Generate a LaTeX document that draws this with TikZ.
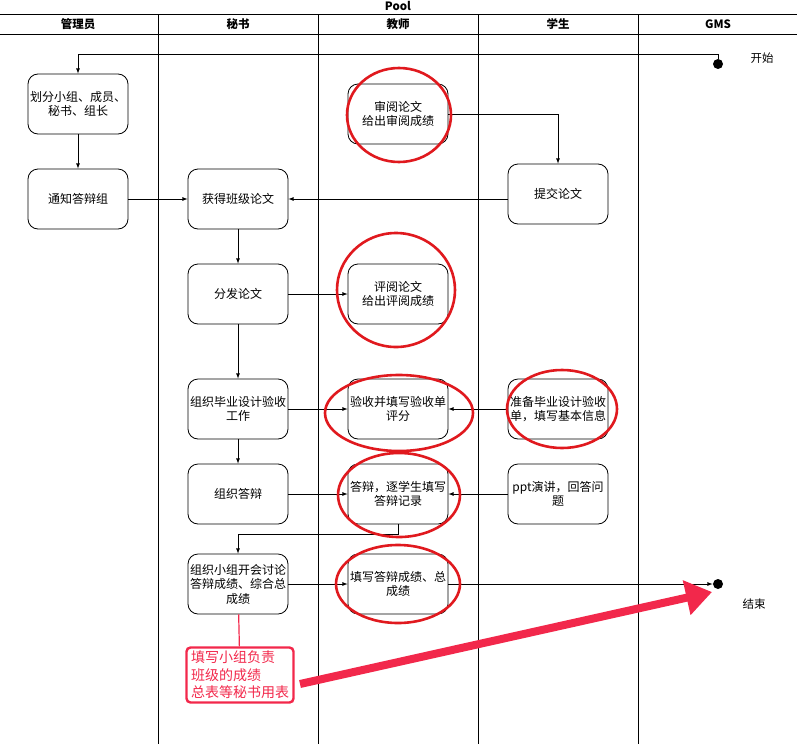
\documentclass[tikz,border=0pt]{standalone}
\usepackage{fontspec}
\setmainfont{Noto Sans CJK SC}
\usetikzlibrary{arrows.meta,arrows,positioning}
\definecolor{hired}{HTML}{E0191E}
\definecolor{notered}{HTML}{F2284B}
\tikzset{
act/.style={
  draw,
  rounded corners=10pt,
  minimum width=100pt,
  minimum height=60pt,
  align=center,
  inner sep=1pt,
  font=\fontsize{12}{14.5}\selectfont
  },
lanehead/.style={
  font=\bfseries\fontsize{11.5}{13}\selectfont,
  inner sep=0pt
  },
lane/.style={line width=0.8pt},
hilite/.style={draw=hired,line width=2.6pt},
notebox/.style={
  draw=notered,
  line width=2.4pt,
  rounded corners=4pt,
  text=notered,
  align=left,
  inner sep=3pt,
  minimum width=107pt,
  minimum height=55pt,
  font=\fontsize{14}{17.5}\selectfont
  },
dot/.style={circle,fill,minimum size=10pt,inner sep=0pt},
plain/.style={font=\fontsize{11.5}{14}\selectfont,inner sep=0pt}
}

\begin{document}
\begin{tikzpicture}[>=latex,x=1pt,y=-1pt,line width=0.8pt]
    \useasboundingbox (0,0) rectangle (797,744);
    % pool and lanes
    \node[lanehead] (pool) at (398,6) {Pool};
    \draw[lane] (0,14) -- (797,14);
    \draw[lane] (0,34) -- (797,34);
    \foreach \x in {158,318,478,638}
        \draw[lane] (\x,14) -- (\x,744);
    \foreach \x/\t [count=\i] in {78/管理员,238/秘书,398/教师,558/学生,718/GMS}
        \node[lanehead] (h\i) at (\x,24) {\t};

    % start and end
    \node[dot] (start) at (718,64) {};
    \node[plain] (startlbl) at (762,58) {开始};
    \node[dot] (stop) at (718,584) {};
    \node[plain] (stoplbl) at (754,604) {结束};

    % activities
    \node[act] (divide) at (78,104) {划分小组、成员、\\秘书、组长};
    \node[act] (inform) at (78,199) {通知答辩组};
    \node[act] (fetch) at (238,199) {获得班级论文};
    \node[act] (review) at (398,114) {审阅论文\\给出审阅成绩};
    \node[act] (submit) at (558,194) {提交论文};
    \node[act] (hand) at (238,294) {分发论文};
    \node[act] (grade) at (398,294) {评阅论文\\给出评阅成绩};
    \node[act] (organize) at (238,409) {组织毕业设计验收\\工作};
    \node[act] (accept) at (398,409) {验收并填写验收单\\评分};
    \node[act] (prepare) at (558,409) {准备毕业设计验收\\单，填写基本信息};
    \node[act] (defense) at (238,494) {组织答辩};
    \node[act] (record) at (398,494) {答辩，逐学生填写\\答辩记录};
    \node[act] (talk) at (558,494) {ppt演讲，回答问\\题};
    \node[act] (meeting) at (238,584) {组织小组开会讨论\\答辩成绩、综合总\\成绩};
    \node[act] (fillin) at (398,584) {填写答辩成绩、总\\成绩};

    % flow
    \draw[->] (start) -- ++(0,-10) -| (divide);
    \draw[->] (divide) -- (inform);
    \draw[->] (inform) -- (fetch);
    \draw[->] (review) -| (submit);
    \draw[->] (submit.west |- fetch) -- (fetch);
    \draw[->] (fetch) -- (hand);
    \draw[->] (hand) -- (grade);
    \draw[->] (hand) -- (organize);
    \draw[->] (organize) -- (accept);
    \draw[->] (prepare) -- (accept);
    \draw[->] (organize) -- (defense);
    \draw[->] (defense) -- (record);
    \draw[->] (talk) -- (record);
    \draw[->] (record) -- ++(0,40) -| (meeting);
    \draw[->] (meeting) -- (fillin);
    \draw[->] (fillin) -- (stop);

    % red marks
    \draw[hilite] (399,115) ellipse [x radius=52pt,y radius=47pt];
    \draw[hilite] (396,290) ellipse [x radius=59pt,y radius=57pt];
    \draw[hilite] (399,413) ellipse [x radius=74pt,y radius=38pt];
    \draw[hilite] (562,409) ellipse [x radius=55pt,y radius=39pt];
    \draw[hilite] (399,495) ellipse [x radius=61pt,y radius=42pt];
    \draw[hilite] (398,584) ellipse [x radius=62pt,y radius=39pt];

    \node[notebox] (note) at (240,675) {填写小组负责\\班级的成绩\\总表等秘书用表};
    \draw[notered,line width=1.2pt] (meeting) -- (note);
    \coordinate (arrS) at (300,684);
    \coordinate (arrE) at (712,592);
    \draw[notered,line width=8pt,-{Triangle[length=26pt,width=34pt]}] (arrS) -- (arrE);
\end{tikzpicture}
\end{document}
